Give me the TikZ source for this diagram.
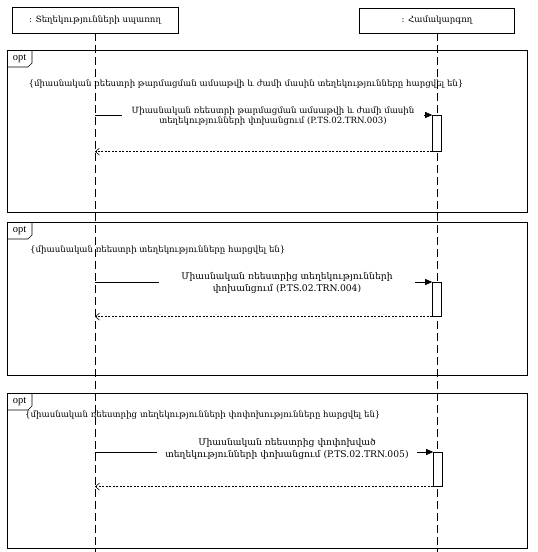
\documentclass[tikz,border=0pt]{standalone}
\usepackage{fontspec}
\setmainfont{Liberation Serif}
\newfontfamily\hy{DejaVu Serif}
\usetikzlibrary{arrows.meta}
\begin{document}
\begin{tikzpicture}[x=1pt,y=-1pt,
  every node/.style={font=\fontsize{8.6}{10.5}\selectfont},
  part/.style={draw, line width=0.6pt, fill=white, inner sep=0pt},
  lifeline/.style={line width=0.6pt, dash pattern=on 8pt off 4pt},
  framebox/.style={draw, line width=0.6pt, inner sep=0pt, anchor=north west, minimum width=520pt},
  act/.style={draw, line width=0.6pt, fill=white, inner sep=0pt, minimum width=9pt, anchor=north},
  msg/.style={line width=0.6pt, -{Triangle[length=7pt,width=6pt]}},
  ret/.style={line width=0.6pt, dash pattern=on 2pt off 1.5pt, -{Straight Barb[length=4pt,width=7pt]}},
  msglabel/.style={fill=white, align=center, inner xsep=10pt, inner ysep=2pt},
  biglabel/.style={msglabel, font=\fontsize{9.2}{11.5}\selectfont},
  guard/.style={inner sep=0pt},
  tabtext/.style={inner sep=0pt, font=\fontsize{10.5}{12}\selectfont}
]
\useasboundingbox (0,0) rectangle (538,552);
\fill[white] (0,0) rectangle (538,552);

% participants
\node[part, minimum width=166pt, minimum height=26pt] (p1) at (95,20) {\hy : Տեղեկությունների սպառող};
\node[part, minimum width=155pt, minimum height=25pt] (p2) at (437,20.5) {\hy : Համակարգող};
\coordinate (e1) at (95,552);
\coordinate (e2) at (437,552);

% frames
\node[framebox, minimum height=162pt] (f1) at (7,50) {};
\node[framebox, minimum height=153pt] (f2) at (7,222) {};
\node[framebox, minimum height=155pt] (f3) at (7,393) {};

% lifelines
\draw[lifeline] (p1.south) -- (e1);
\draw[lifeline] (p2.south) -- (e2);

% tabs
\foreach \f in {f1,f2,f3} {
  \draw[line width=0.6pt] (\f.north west) ++(0,17) -- ++(21,0) -- ++(4,-4) -- ++(0,-13);
  \node[tabtext] at ([xshift=12.5pt,yshift=-8.5pt]\f.north west) {opt};
}

% guards
\node[guard] (g1) at (246,84) {\hy \{միասնական ռեեստրի թարմացման ամսաթվի և ժամի մասին տեղեկությունները հարցվել են\}};
\node[guard, anchor=west] (g2) at (30,250) {\hy \{միասնական ռեեստրի տեղեկությունները հարցվել են\}};
\node[guard, anchor=west] (g3) at (25,415) {\hy \{միասնական ռեեստրից տեղեկությունների փոփոխությունները հարցվել են\}};

% activations
\node[act, minimum height=36pt] (a1) at (437,115) {};
\node[act, minimum height=34pt] (a2) at (437,282) {};
\node[act, minimum height=34pt] (a3) at (438,452) {};

% messages
\coordinate (s1) at (a1.north west -| e1);
\coordinate (s2) at (a2.north west -| e1);
\coordinate (s3) at (a3.north west -| e1);
\draw[msg] (s1) -- (a1.north west);
\draw[msg] (s2) -- (a2.north west);
\draw[msg] (s3) -- (a3.north west);
\node[msglabel] (m1) at (273,116) {\hy Միասնական ռեեստրի թարմացման ամսաթվի և ժամի մասին\\\hy տեղեկությունների փոխանցում (P.TS.02.TRN.003)};
\node[biglabel, inner xsep=22pt] (m2) at (287,283) {\hy Միասնական ռեեստրից տեղեկությունների\\\hy փոխանցում (P.TS.02.TRN.004)};
\node[biglabel, inner xsep=8pt] (m3) at (287,449) {\hy Միասնական ռեեստրից փոփոխված\\\hy տեղեկությունների փոխանցում (P.TS.02.TRN.005)};

% returns
\coordinate (r1) at (a1.south west -| e1);
\coordinate (r2) at (a2.south west -| e1);
\coordinate (r3) at (a3.south west -| e1);
\draw[ret] (a1.south west) -- (r1);
\draw[ret] (a2.south west) -- (r2);
\draw[ret] (a3.south west) -- (r3);
\end{tikzpicture}
\end{document}
